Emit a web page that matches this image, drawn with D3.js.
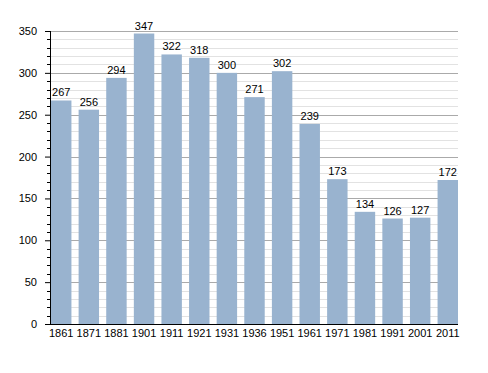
<!DOCTYPE html>
<html>
<head>
<meta charset="utf-8">
<script src="https://cdn.jsdelivr.net/npm/d3@7"></script>
<style>
  body { margin: 0; background: #fff; }
  text { font-family: "Liberation Sans", Arial, sans-serif; font-size: 11px; fill: #000; }
</style>
</head>
<body>
<div id="graph"></div>
<script>
var years = ['1861', '1871', '1881', '1901', '1911', '1921', '1931', '1936', '1951', '1961', '1971', '1981', '1991', '2001', '2011']
var population = [267, 256, 294, 347, 322, 318, 300, 271, 302, 239, 173, 134, 126, 127, 172]
var yTicks = [0, 50, 100, 150, 200, 250, 300, 350]

var margin = {top: 31, left: 50, right: 30, bottom: 49}
var width = 488 - margin.left - margin.right
var height = 373 - margin.top - margin.bottom

var svg = d3.select('#graph').append('svg')
  .attr('width', 488).attr('height', 373)
var g = svg.append('g').attr('transform', `translate(${margin.left},${margin.top})`)

var x = d3.scaleBand().domain(years).range([1, width]).paddingInner(0.26).paddingOuter(0)
var y = d3.scaleLinear().domain([0, 350]).range([height, 0])

// minor grid every 10
g.selectAll('line.minor').data(d3.range(10, 351, 10).filter(d => d % 50))
  .join('line')
  .attr('x1', 0).attr('x2', width)
  .attr('y1', d => Math.round(y(d)) + 0.5).attr('y2', d => Math.round(y(d)) + 0.5)
  .attr('stroke', '#e2e2e2')

// major grid
g.selectAll('line.major').data(yTicks.slice(1))
  .join('line')
  .attr('x1', 0).attr('x2', width)
  .attr('y1', d => Math.round(y(d)) + 0.5).attr('y2', d => Math.round(y(d)) + 0.5)
  .attr('stroke', '#aaaaaa')

// bars
g.selectAll('rect.bar').data(population)
  .join('rect')
  .attr('x', (d, i) => x(years[i]))
  .attr('width', x.bandwidth())
  .attr('y', d => y(d))
  .attr('height', d => height - y(d))
  .attr('fill', '#99b3cf')

// value labels
g.selectAll('text.val').data(population)
  .join('text')
  .attr('x', (d, i) => x(years[i]) + x.bandwidth() / 2)
  .attr('y', d => y(d) - 4)
  .attr('text-anchor', 'middle')
  .text(d => d)

// y axis
var yAxis = d3.axisLeft(y).tickValues(yTicks).tickSize(5).tickPadding(8)
var ya = g.append('g').call(yAxis)
ya.select('.domain').remove()
ya.selectAll('text').style('font-size', '11px').attr('font-family', null)
ya.selectAll('line').attr('stroke', '#000')
g.selectAll('line.ytick').data(d3.range(0, 351, 10).filter(d => d % 50))
  .join('line')
  .attr('x1', -3).attr('x2', 0)
  .attr('y1', d => Math.round(y(d)) + 0.5).attr('y2', d => Math.round(y(d)) + 0.5)
  .attr('stroke', '#000')
g.append('line')
  .attr('x1', 0.5).attr('x2', 0.5).attr('y1', 0).attr('y2', height)
  .attr('stroke', '#000')

// x axis
var xa = g.append('g').attr('transform', `translate(0,${height})`)
  .call(d3.axisBottom(x).tickSize(0).tickPadding(5))
xa.select('.domain').attr('stroke', '#000').attr('d', `M0,0.5H${width}`)
xa.selectAll('text').style('font-size', '11px').attr('font-family', null)
</script>
</body>
</html>
